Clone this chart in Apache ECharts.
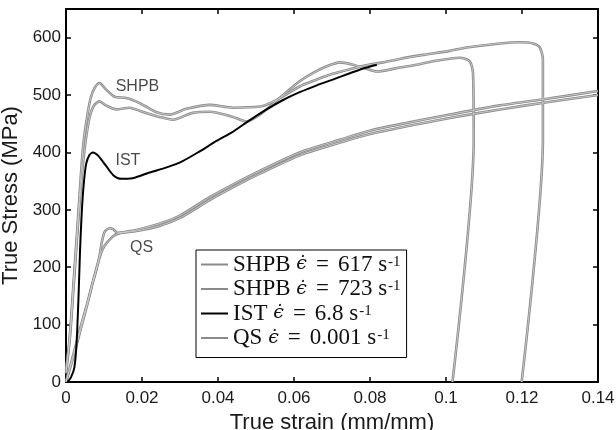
<!DOCTYPE html>
<html>
<head>
<meta charset="utf-8">
<script src="https://cdn.jsdelivr.net/npm/echarts@6/dist/echarts.min.js"></script>
<style>
  html, body { margin: 0; padding: 0; background: #fff; }
  #chart { width: 616px; height: 430px; }
</style>
</head>
<body>
<div id="chart"></div>
<script>
// Strain (mm/mm) vs true stress (MPa) for each test
const shpb617 = [
  [0, 15], [0.001, 75], [0.002, 165], [0.003, 260], [0.0038, 330], [0.0048, 400],
  [0.006, 455], [0.0072, 480], [0.0088, 489], [0.0105, 482], [0.0133, 475],
  [0.0167, 478], [0.0201, 471], [0.0246, 462], [0.0281, 457], [0.0333, 469],
  [0.0378, 471], [0.0439, 462], [0.0475, 454], [0.051, 466], [0.055, 488],
  [0.058, 505], [0.0615, 524], [0.066, 542], [0.069, 551], [0.072, 557],
  [0.0755, 553], [0.079, 546], [0.0818, 541], [0.0878, 548], [0.0923, 553],
  [0.0966, 559], [0.1036, 565], [0.1062, 559], [0.1071, 539], [0.1073, 422],
  [0.1017, 0]
];
const shpb723 = [
  [0, 20], [0.001, 80], [0.002, 175], [0.003, 270], [0.0036, 330], [0.0045, 410],
  [0.0055, 460], [0.0065, 495], [0.0075, 512], [0.0088, 521], [0.0105, 510],
  [0.0128, 497], [0.0159, 495], [0.0194, 486], [0.0238, 470], [0.0273, 466],
  [0.0317, 476], [0.0378, 483], [0.0439, 478], [0.051, 480], [0.055, 490],
  [0.0615, 515], [0.066, 527], [0.0702, 537], [0.0747, 545], [0.079, 552],
  [0.0834, 557], [0.0878, 563], [0.094, 570], [0.101, 577], [0.1054, 583],
  [0.1142, 590], [0.1194, 592], [0.1229, 590], [0.1247, 583], [0.1255, 562],
  [0.1255, 422], [0.1199, 0]
];
const ist = [
  [0.0004, 0], [0.0013, 8], [0.0022, 25], [0.0028, 70], [0.0033, 150],
  [0.0037, 230], [0.0041, 290], [0.0046, 340], [0.0053, 380], [0.0062, 396],
  [0.0071, 400], [0.0085, 394], [0.0105, 377], [0.0125, 360], [0.0145, 354],
  [0.0175, 355], [0.0194, 359], [0.022, 365], [0.0265, 374], [0.0307, 385],
  [0.0352, 402], [0.0396, 420], [0.0439, 436], [0.0483, 456], [0.0528, 475],
  [0.057, 491], [0.0615, 505], [0.066, 517], [0.0702, 527], [0.0747, 538],
  [0.078, 546], [0.0818, 553]
];
const qsA = [
  [0, 0], [0.002, 50], [0.004, 100], [0.0055, 135], [0.0067, 166], [0.0078, 191],
  [0.0088, 219], [0.0094, 243], [0.0102, 262], [0.0115, 268], [0.0125, 266],
  [0.0135, 260], [0.016, 262], [0.0185, 265], [0.0246, 276], [0.03, 290],
  [0.0378, 322], [0.045, 348], [0.051, 368], [0.0615, 400], [0.07, 418],
  [0.08, 438], [0.09, 452], [0.101, 466], [0.1142, 482], [0.127, 494], [0.14, 507]
];
const qsB = [
  [0, 0], [0.002, 45], [0.004, 95], [0.006, 145], [0.0075, 185], [0.0096, 231],
  [0.0122, 253], [0.014, 259], [0.0185, 263], [0.0246, 272], [0.03, 286],
  [0.0378, 317], [0.045, 343], [0.051, 363], [0.0615, 395], [0.07, 413],
  [0.08, 432], [0.09, 446], [0.101, 460], [0.1142, 475], [0.127, 488], [0.14, 500]
];

// Legend entries: test label and strain rate (1/s)
const testLabels = ['SHPB', 'SHPB', 'IST', 'QS'];
const strainRates = ['617', '723', '6.8', '0.001'];

// Curve annotations placed in data coordinates
const noteTexts = ['SHPB', 'IST', 'QS'];
const notePositions = [[0.0188, 514], [0.0163, 386], [0.0199, 235]];

const xTicks = { min: 0, max: 0.14, interval: 0.02 };
const yTicks = { min: 0, max: 650, interval: 100 };

const GRAY = '#8a8a8a';
const seriesNames = testLabels.map((t, i) => t + ' ' + strainRates[i]);

function lineSeries(name, data, color, width, z) {
  return {
    name, type: 'line', data, showSymbol: false, symbol: 'none', smooth: 0.25,
    lineStyle: { color, width }, itemStyle: { color }, z, silent: true,
    animation: false
  };
}

const series = [];
// Gray curves are drawn as an outline with a lighter core
[[seriesNames[0], shpb617], [seriesNames[1], shpb723], [seriesNames[3], qsA], [seriesNames[3], qsB]]
  .forEach(([name, data]) => {
    series.push(lineSeries(name, data, GRAY, 2.6, 2));
    series.push(lineSeries('core', data, '#d6d6d6', 0.8, 3));
  });
series.push(lineSeries(seriesNames[2], ist, '#000', 2, 4));
series.push({
  name: 'notes', type: 'scatter', symbolSize: 0, silent: true, z: 5,
  data: noteTexts.map((t, i) => ({ name: t, value: notePositions[i] })),
  label: {
    show: true, position: 'inside', formatter: p => p.name,
    fontFamily: 'Liberation Sans', fontSize: 16, color: '#1a1a1a'
  }
});

const axisLine = { show: true, onZero: false, lineStyle: { color: '#000', width: 2 } };
const axisTick = { show: true, inside: true, length: 5, lineStyle: { color: '#000', width: 1.5 } };
const tickLabel = { fontFamily: 'Liberation Sans', fontSize: 17, color: '#1a1a1a' };
const nameStyle = { fontFamily: 'Liberation Sans', fontSize: 22, color: '#1a1a1a' };

const chart = echarts.init(document.getElementById('chart'), null, { renderer: 'canvas' });
chart.setOption({
  animation: false,
  backgroundColor: '#fff',
  grid: { left: 66, right: 18, top: 9, bottom: 48, outerBoundsMode: 'none' },
  xAxis: [
    {
      type: 'value', position: 'bottom', ...xTicks,
      axisLine, axisTick, splitLine: { show: false },
      axisLabel: { ...tickLabel, margin: 8 },
      name: 'True strain (mm/mm)', nameLocation: 'middle', nameGap: 24,
      nameTextStyle: nameStyle
    },
    {
      type: 'value', position: 'top', ...xTicks,
      axisLine, axisTick, splitLine: { show: false }, axisLabel: { show: false }
    }
  ],
  yAxis: [
    {
      type: 'value', position: 'left', ...yTicks,
      axisLine, axisTick, splitLine: { show: false },
      axisLabel: { ...tickLabel, margin: 5, showMaxLabel: false },
      name: 'True Stress (MPa)', nameLocation: 'middle', nameGap: 36,
      nameTextStyle: nameStyle
    },
    {
      type: 'value', position: 'right', ...yTicks,
      axisLine, axisTick, splitLine: { show: false }, axisLabel: { show: false }
    }
  ],
  legend: {
    data: seriesNames,
    orient: 'vertical', left: 196, top: 250,
    backgroundColor: '#fff', borderColor: '#000', borderWidth: 1,
    padding: [3, 6, 8, 5], itemGap: 1.5,
    itemWidth: 27, itemHeight: 2, icon: 'rect',
    selectedMode: false,
    formatter: name => {
      const i = seriesNames.indexOf(name);
      return '{t|' + testLabels[i] + ' }{e|\u03f5\u0307}{q|=}{t|' + strainRates[i] + ' s}{s|-1}';
    },
    textStyle: {
      rich: {
        t: { fontFamily: 'Liberation Serif', fontSize: 23, color: '#111', lineHeight: 20 },
        q: { fontFamily: 'Liberation Serif', fontSize: 23, color: '#111', lineHeight: 20, padding: [0, 9, 0, 9] },
        e: { fontFamily: 'DejaVu Serif', fontStyle: 'italic', fontSize: 19, color: '#111', lineHeight: 20 },
        s: { fontFamily: 'Liberation Serif', fontSize: 15, color: '#111', lineHeight: 12, verticalAlign: 'top', padding: [0, 0, 0, 1] }
      }
    }
  },
  series
});
</script>
</body>
</html>
